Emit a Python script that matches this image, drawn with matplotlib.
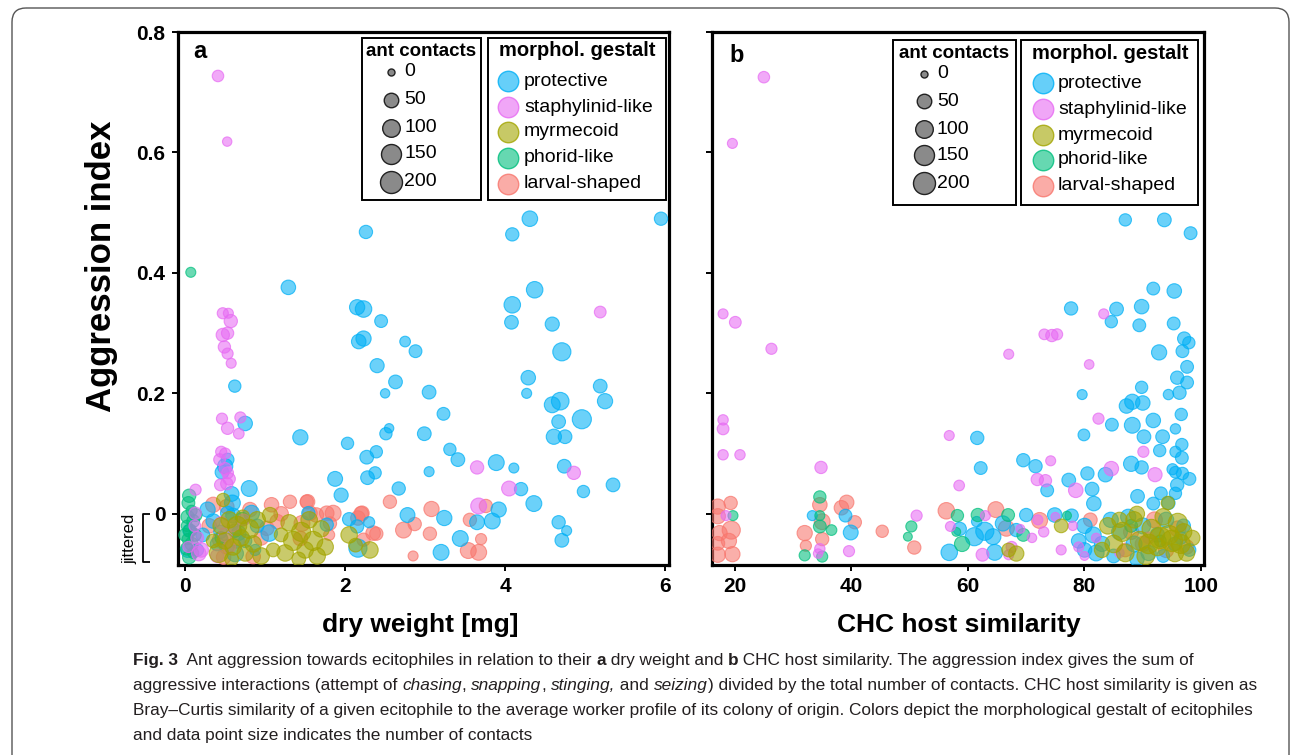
import numpy as np
import matplotlib
matplotlib.use("Agg")
import matplotlib.pyplot as plt
from matplotlib.colors import to_rgba
from matplotlib.patches import FancyBboxPatch, Rectangle
from matplotlib import font_manager

W, H, DPI = 1295, 755, 100
plt.rcParams['font.family'] = ['Liberation Sans', 'DejaVu Sans']

# ---------------- data ----------------
gestalts = ["protective", "staphylinid-like", "myrmecoid", "phorid-like", "larval-shaped"]
colors = {"protective": "#00B0F6", "staphylinid-like": "#E76BF3", "myrmecoid": "#A3A500",
          "phorid-like": "#00BF7D", "larval-shaped": "#F8766D"}
contact_levels = [0, 50, 100, 150, 200]

yticks = [0, 0.2, 0.4, 0.6, 0.8]
ytick_labels = ["0", "0.2", "0.4", "0.6", "0.8"]
a_xticks = [0, 2, 4, 6]
b_xticks = [20, 40, 60, 80, 100]

# panel a: dry weight [mg]
a_prot_x = [2.26, 1.29, 2.15, 2.23, 2.45, 2.17, 2.23, 2.75, 2.88, 2.40, 2.63, 2.5, 3.05, 3.23, 0.62, 0.75, 1.44, 2.55, 2.51, 2.99,
            2.03, 2.39, 2.27, 2.375, 2.28, 1.875, 1.95, 2.67, 3.05, 3.31, 3.41, 3.89, 4.11, 4.2, 4.36, 4.31, 4.09, 5.95, 4.37, 4.09,
            4.08, 4.59, 4.71, 4.29, 4.27, 4.59, 4.69, 4.96, 5.19, 5.25, 4.67, 4.61, 4.75, 4.74, 4.98, 5.35, 0.5, 0.46, 0.53, 0.8,
            0.58, 0.03, 0.05, 0.28, 0.59, 0.53, 0.6, 0.83, 0.67, 0.625, 0.875, 1.05, 0.44, 1.54, 1.77, 2.16, 2.78, 2.05, 2.15, 2.3,
            3.24, 3.44, 3.2, 3.65, 3.84, 3.92, 4.67, 4.77, 4.71, 0.35, 0.4, 0.9, 0.75, 0.22, 0.15]
a_prot_y = [0.468, 0.376, 0.343, 0.34, 0.32, 0.286, 0.291, 0.286, 0.27, 0.246, 0.219, 0.2, 0.202, 0.166, 0.212, 0.15, 0.127, 0.142, 0.133, 0.133,
            0.117, 0.103, 0.094, 0.068, 0.06, 0.058, 0.031, 0.042, 0.07, 0.107, 0.09, 0.085, 0.076, 0.041, 0.017, 0.49, 0.464, 0.49, 0.372, 0.347,
            0.318, 0.315, 0.269, 0.226, 0.2, 0.181, 0.187, 0.157, 0.212, 0.187, 0.153, 0.128, 0.128, 0.079, 0.037, 0.048, 0.079, 0.069, 0.09, 0.042,
            0.033, -0.061, -0.028, 0.007, 0.018, 0.001, -0.003, 0.001, -0.032, -0.066, -0.06, -0.032, -0.03, 0.001, -0.018, -0.057, -0.002, -0.009, -0.021, -0.014,
            -0.007, -0.041, -0.064, -0.014, -0.012, 0.007, -0.014, -0.028, -0.044, -0.012, -0.05, -0.02, -0.045, -0.035, -0.06]
a_prot_n = [35, 50, 60, 80, 30, 50, 60, 12, 30, 45, 40, 5, 40, 30, 25, 50, 60, 5, 25, 40,
            25, 25, 40, 25, 40, 55, 45, 35, 8, 25, 40, 70, 8, 35, 70, 65, 35, 35, 80, 80,
            40, 45, 110, 50, 8, 70, 100, 130, 40, 60, 40, 60, 40, 40, 25, 40, 60, 40, 30, 70,
            55, 40, 30, 60, 70, 45, 55, 70, 50, 80, 15, 80, 35, 35, 35, 110, 55, 35, 35, 15,
            60, 70, 70, 55, 70, 60, 35, 8, 40, 50, 40, 40, 35, 40, 30]

a_stap_x = [0.41, 0.525, 0.47, 0.54, 0.57, 0.47, 0.53, 0.49, 0.53, 0.575, 0.46, 0.69, 0.53, 0.67, 0.45, 0.5, 0.43, 0.5, 0.53, 0.55,
            0.44, 0.52, 0.13, 5.19, 4.05, 4.86, 3.67, 3.65, 0.125, 0.12, 0.17, 0.04, 0.2, 0.15, 0.45, 0.5, 0.55, 0.73, 0.4, 0.6]
a_stap_y = [0.727, 0.618, 0.333, 0.333, 0.32, 0.297, 0.30, 0.277, 0.266, 0.25, 0.158, 0.16, 0.142, 0.133, 0.103, 0.1, 0.09, 0.075, 0.068, 0.058,
            0.048, 0.05, 0.04, 0.335, 0.042, 0.068, 0.013, 0.077, 0.001, -0.02, -0.066, -0.055, -0.06, -0.04, -0.015, -0.035, -0.055, -0.01, -0.07, -0.02]
a_stap_n = [18, 5, 15, 8, 35, 35, 25, 25, 15, 8, 15, 15, 25, 12, 15, 15, 20, 25, 20, 25,
            20, 25, 15, 20, 55, 35, 70, 35, 25, 20, 50, 15, 50, 30, 30, 40, 30, 20, 35, 20]

a_myrm_x = [0.475, 1.06, 0.45, 0.5, 0.42, 0.55, 0.6, 0.65, 0.7, 0.75, 0.8, 0.85, 0.9, 0.95, 0.72, 0.58, 1.3, 1.35, 1.25, 1.45,
            1.5, 1.55, 1.6, 1.65, 1.7, 1.75, 1.42, 1.2, 1.1, 2.05, 2.13, 2.31, 0.35]
a_myrm_y = [0.023, -0.002, -0.02, -0.045, -0.065, -0.01, -0.055, -0.02, -0.04, -0.065, -0.025, -0.05, -0.01, -0.07, -0.005, -0.075, -0.015, -0.045, -0.065, -0.03,
            -0.06, -0.01, -0.045, -0.07, -0.025, -0.055, -0.075, -0.035, -0.06, -0.035, -0.052, -0.06, -0.045]
a_myrm_n = [35, 60, 80, 80, 130, 80, 80, 130, 80, 80, 130, 80, 80, 80, 40, 40, 80, 130, 80, 130,
            80, 80, 130, 80, 80, 80, 40, 40, 40, 80, 40, 80, 40]

a_phor_x = [0.07, 0.05, 0.04, 0.08, 0.03, 0.1, 0.02, 0.06, 0.12, 0.03, 0.08, 0.02, 0.1, 0.05, 0.13, 0.0, 0.71, 0.62, 0.45]
a_phor_y = [0.401, 0.03, 0.018, 0.005, -0.005, -0.012, -0.02, -0.028, -0.035, -0.042, -0.05, -0.058, -0.065, -0.072, -0.002, -0.035, -0.009, -0.028, -0.04]
a_phor_n = [8, 35, 30, 15, 35, 30, 15, 35, 30, 15, 35, 30, 15, 35, 30, 30, 40, 35, 25]

a_larv_x = [0.35, 0.52, 0.81, 1.08, 1.31, 1.52, 1.56, 1.77, 1.81, 1.46, 1.44, 1.02, 1.15, 0.44, 0.52, 0.85, 0.48, 2.16, 2.21, 2.35,
            2.56, 3.08, 2.85, 1.53, 1.64, 1.85, 1.8, 2.2, 2.39, 2.23, 2.73, 2.87, 3.06, 3.7, 3.54, 3.67, 3.76, 3.56, 0.3, 0.65,
            1.2, 0.95]
a_larv_y = [0.015, 0.012, 0.007, 0.015, 0.02, 0.02, 0.001, 0.001, -0.016, -0.016, -0.041, -0.024, -0.013, -0.043, -0.055, -0.071, -0.072, -0.007, 0.001, -0.032,
            0.02, 0.008, -0.07, 0.02, -0.002, 0.001, -0.035, 0.0, -0.033, -0.043, -0.027, -0.017, -0.033, -0.042, -0.061, -0.064, 0.013, -0.01, -0.02, -0.045,
            0.0, -0.04]
a_larv_n = [60, 50, 50, 50, 35, 35, 50, 50, 35, 70, 50, 50, 50, 70, 50, 50, 50, 50, 50, 50,
            35, 60, 8, 50, 50, 70, 15, 50, 35, 35, 70, 35, 35, 15, 70, 70, 35, 35, 50, 50,
            50, 50]

# panel b: CHC host similarity
b_prot_x = [61.6, 62.2, 87.0, 93.7, 98.2, 91.8, 95.4, 77.7, 85.5, 84.6, 89.8, 89.4, 95.3, 97.1, 97.9, 96.8, 92.8, 97.6, 95.9, 97.6,
            96.3, 94.4, 89.8, 87.2, 88.2, 90.0, 79.6, 96.6, 91.8, 88.2, 90.2, 93.4, 92.9, 84.7, 79.9, 95.6, 96.7, 96.7, 95.6, 88.0,
            89.8, 95.1, 95.6, 96.8, 98.0, 95.9, 95.6, 69.5, 71.6, 73.6, 77.3, 80.5, 83.6, 81.3, 81.6, 89.1, 91.8, 93.1, 94.4,
            33.3, 39.0, 39.9, 56.8, 58.6, 61.1, 62.9, 64.3, 64.6, 61.5, 66.0, 68.3, 70.0, 74.9, 77.8, 80.0, 81.5, 83.0, 82.0, 80.0,
            84.5, 86.0, 87.5, 88.5, 90.0, 91.0, 92.5, 94.0, 95.5, 97.0, 98.0, 79.0, 85.0, 93.5, 89.0, 96.5]
b_prot_y = [0.126, 0.076, 0.488, 0.488, 0.466, 0.374, 0.37, 0.341, 0.34, 0.319, 0.344, 0.313, 0.316, 0.291, 0.284, 0.27, 0.268, 0.244, 0.226, 0.218,
            0.201, 0.198, 0.21, 0.179, 0.186, 0.184, 0.198, 0.165, 0.155, 0.147, 0.128, 0.128, 0.105, 0.148, 0.131, 0.141, 0.115, 0.093, 0.103, 0.083,
            0.077, 0.074, 0.069, 0.067, 0.058, 0.048, 0.034, 0.089, 0.079, 0.039, 0.056, 0.067, 0.065, 0.041, 0.017, 0.029, 0.017, 0.034, 0.018,
            -0.003, -0.003, -0.031, -0.064, -0.025, -0.038, -0.029, -0.038, -0.064, -0.013, -0.016, -0.027, -0.002, -0.002, -0.003, -0.02, -0.035, -0.05, -0.065, -0.06,
            -0.01, -0.03, -0.005, -0.05, -0.02, -0.065, -0.035, -0.01, -0.05, -0.02, -0.06, -0.045, -0.07, -0.07, -0.075, -0.04]
b_prot_n = [35, 30, 25, 40, 30, 30, 50, 35, 40, 25, 50, 30, 30, 35, 25, 30, 60, 30, 35, 30,
            35, 10, 25, 50, 60, 50, 8, 25, 50, 70, 40, 40, 25, 30, 20, 10, 25, 30, 15, 60,
            35, 15, 20, 25, 30, 35, 25, 35, 35, 30, 40, 35, 50, 40, 50, 40, 30, 30, 35,
            8, 30, 55, 80, 35, 110, 110, 70, 70, 10, 60, 35, 35, 50, 35, 60, 70, 60, 70, 50,
            60, 70, 60, 70, 70, 60, 50, 60, 40, 40, 30, 50, 40, 30, 50, 30]

b_stap_x = [25.0, 19.6, 18.0, 20.1, 26.3, 18.0, 18.0, 18.0, 20.9, 34.8, 56.8, 58.5, 83.3, 73.1, 74.4, 75.3, 67.0, 80.8, 90.1, 82.4,
            84.6, 92.1, 74.2, 71.9, 73.3, 78.5, 18.5, 34.6, 34.3, 39.6, 51.2, 57.0, 62.5, 63.0, 69.0, 71.0, 73.0, 75.0, 76.0, 78.0,
            79.0, 80.0, 67.5, 67.0, 82.0, 86.0, 91.0, 72.0]
b_stap_y = [0.725, 0.615, 0.332, 0.318, 0.274, 0.156, 0.141, 0.098, 0.098, 0.077, 0.13, 0.047, 0.332, 0.298, 0.296, 0.298, 0.265, 0.248, 0.103, 0.158,
            0.075, 0.065, 0.088, 0.057, 0.055, 0.039, -0.003, -0.058, -0.066, -0.062, -0.003, -0.021, -0.068, -0.003, -0.025, -0.04, -0.03, -0.005, -0.06, -0.02,
            -0.055, -0.07, -0.055, -0.068, -0.04, -0.065, -0.04, -0.01]
b_stap_n = [18, 8, 8, 20, 15, 10, 20, 10, 10, 25, 8, 12, 8, 12, 25, 15, 8, 6, 15, 15,
            50, 45, 8, 25, 25, 50, 8, 10, 5, 15, 15, 8, 30, 8, 3, 5, 10, 3, 8, 5,
            8, 3, 15, 8, 5, 5, 20, 8]

b_myrm_x = [94.3, 68.3, 84.0, 85.0, 86.5, 87.0, 88.5, 89.5, 90.5, 91.5, 92.5, 93.5, 94.5, 95.5, 96.0, 96.5, 97.0, 97.5, 95.0, 93.0,
            91.0, 83.0, 86.0, 98.5, 76.0, 89.0, 67.0]
b_myrm_y = [0.018, -0.066, -0.02, -0.05, -0.03, -0.065, -0.01, -0.045, -0.07, -0.025, -0.055, -0.005, -0.035, -0.065, -0.015, -0.05, -0.03, -0.065, -0.045, -0.04,
            -0.05, -0.06, -0.01, -0.04, -0.02, 0.0, -0.06]
b_myrm_n = [35, 60, 80, 100, 130, 100, 80, 130, 100, 130, 100, 80, 130, 100, 130, 130, 80, 80, 180, 180,
            140, 60, 60, 60, 40, 60, 40]

b_phor_x = [34.6, 19.7, 32.0, 34.6, 34.6, 36.6, 35.0, 50.3, 49.7, 59.0, 58.2, 61.7, 58.0, 66.9, 69.5, 77.0, 88.0, 93.0]
b_phor_y = [0.028, -0.003, -0.069, -0.021, -0.003, -0.027, -0.071, -0.021, -0.038, -0.05, -0.003, -0.002, -0.03, -0.002, -0.035, -0.003, -0.02, -0.045]
b_phor_n = [25, 8, 15, 30, 8, 12, 15, 15, 3, 60, 25, 35, 3, 30, 30, 3, 30, 20]

b_larv_x = [17.1, 19.3, 17.1, 17.4, 19.4, 19.0, 17.1, 17.1, 19.6, 34.6, 39.2, 38.3, 32.0, 32.2, 35.0, 35.0, 40.6, 45.3, 50.8, 56.3,
            64.8, 66.6, 72.3, 88.0, 90.0, 92.0, 94.0, 96.0, 97.5, 87.0, 81.0]
b_larv_y = [0.012, 0.018, -0.004, -0.032, -0.027, -0.045, -0.049, -0.068, -0.067, 0.015, 0.019, 0.01, -0.032, -0.053, -0.013, -0.042, -0.014, -0.029, -0.056, 0.005,
            0.007, -0.024, -0.011, -0.03, -0.05, -0.01, -0.06, -0.025, -0.055, -0.06, -0.01]
b_larv_n = [60, 35, 60, 60, 110, 60, 40, 60, 60, 50, 50, 50, 60, 15, 70, 35, 35, 25, 35, 80,
            70, 70, 70, 60, 60, 70, 60, 70, 50, 40, 40]

panel_a = {"larval-shaped": (a_larv_x, a_larv_y, a_larv_n), "protective": (a_prot_x, a_prot_y, a_prot_n),
           "phorid-like": (a_phor_x, a_phor_y, a_phor_n), "staphylinid-like": (a_stap_x, a_stap_y, a_stap_n),
           "myrmecoid": (a_myrm_x, a_myrm_y, a_myrm_n)}
panel_b = {"larval-shaped": (b_larv_x, b_larv_y, b_larv_n), "protective": (b_prot_x, b_prot_y, b_prot_n),
           "phorid-like": (b_phor_x, b_phor_y, b_phor_n), "staphylinid-like": (b_stap_x, b_stap_y, b_stap_n),
           "myrmecoid": (b_myrm_x, b_myrm_y, b_myrm_n)}

# ---------------- helpers ----------------
def size_pt2(n):
    d = 7 + 15 * np.sqrt(np.asarray(n, dtype=float) / 200.0)
    return (d * 72.0 / DPI) ** 2

def px_rect(l, t, r, b):
    return [l / W, 1 - b / H, (r - l) / W, (b - t) / H]

fig = plt.figure(figsize=(W / DPI, H / DPI), dpi=DPI)
fig.patch.set_facecolor("white")

axa = fig.add_axes(px_rect(178, 32, 669, 565))
axb = fig.add_axes(px_rect(712, 32, 1204, 565))

def draw_panel(ax, data, xlim, xticks, show_ylabels):
    for g in ["larval-shaped", "protective", "phorid-like", "staphylinid-like", "myrmecoid"]:
        x, y, n = data[g]
        c = colors[g]
        ax.scatter(x, y, s=size_pt2(n), facecolor=to_rgba(c, 0.58), edgecolor=to_rgba(c, 0.72),
                   linewidth=0.8, zorder=3)
    ax.set_xlim(*xlim)
    ax.set_ylim(-0.085, 0.8)
    ax.set_xticks(xticks)
    ax.set_xticklabels([str(t) for t in xticks], fontsize=15, fontweight="bold")
    ax.set_yticks(yticks)
    if show_ylabels:
        ax.set_yticklabels(ytick_labels, fontsize=15, fontweight="bold")
    else:
        ax.set_yticklabels([])
    for sp in ax.spines.values():
        sp.set_linewidth(2.3)
        sp.set_color("black")
    ax.tick_params(direction="out", length=4, width=1.4, pad=5, colors="black")

draw_panel(axa, panel_a, (-0.09, 6.05), a_xticks, True)
draw_panel(axb, panel_b, (16.1, 100.5), b_xticks, False)

# overlay in pixel coordinates
ov = fig.add_axes([0, 0, 1, 1], zorder=10)
ov.set_xlim(0, W)
ov.set_ylim(H, 0)
ov.axis("off")
ov.patch.set_alpha(0)

# outer rounded border
ov.add_patch(FancyBboxPatch((12, 8), 1277, 800, boxstyle="round,pad=0,rounding_size=14",
                            facecolor="none", edgecolor="#555555", linewidth=1.0, clip_on=False))

# axis labels
ov.text(102, 266, "Aggression index", rotation=90, ha="center", va="center",
        fontsize=25, fontweight="bold")
ov.text(420, 625, "dry weight [mg]", ha="center", va="center", fontsize=19, fontweight="bold")
ov.text(959, 625, "CHC host similarity", ha="center", va="center", fontsize=19, fontweight="bold")
ov.text(193, 52, "a", ha="left", va="center", fontsize=17, fontweight="bold")
ov.text(729, 56, "b", ha="left", va="center", fontsize=17, fontweight="bold")

# jittered bracket
ov.plot([150, 143, 143, 150], [514, 514, 562, 562], color="black", lw=1.3, solid_capstyle="butt")
ov.text(130, 539, "jittered", rotation=90, ha="center", va="center", fontsize=12)

# legends
def draw_legends(ant_box, ant_title_xy, ant_cx, ant_lx, ant_rows, g_box, g_title_xy, g_cx, g_lx, g_rows):
    for (l, t, r, b) in (ant_box, g_box):
        ov.add_patch(Rectangle((l, t), r - l, b - t, facecolor="white", edgecolor="black",
                               linewidth=1.4, zorder=1))
    ov.text(*ant_title_xy, "ant contacts", ha="center", va="center", fontsize=13.5,
            fontweight="bold", zorder=3)
    for lev, yy in zip(contact_levels, ant_rows):
        ov.scatter([ant_cx], [yy], s=size_pt2(lev), facecolor="#8a8a8a", edgecolor="#222222",
                   linewidth=1.0, zorder=3)
        ov.text(ant_lx, yy, str(lev), ha="left", va="center", fontsize=14, zorder=3)
    ov.text(*g_title_xy, "morphol. gestalt", ha="center", va="center", fontsize=14.5,
            fontweight="bold", zorder=3)
    for g, yy in zip(gestalts, g_rows):
        c = colors[g]
        ov.scatter([g_cx], [yy], s=(20.5 * 72 / DPI) ** 2, facecolor=to_rgba(c, 0.6),
                   edgecolor=to_rgba(c, 0.8), linewidth=1.0, zorder=3)
        ov.text(g_lx, yy, g, ha="left", va="center", fontsize=14, zorder=3)

draw_legends((362, 38, 481, 200), (421, 51), 391, 404, [72, 99.5, 127.5, 154, 182],
             (488, 38, 666, 200), (577, 51), 508, 524, [81, 107, 132, 158, 183.5])
draw_legends((893, 40, 1016, 205), (954, 53.5), 924, 937, [73.5, 101, 129, 155, 183],
             (1021, 40, 1198, 205), (1110, 53.5), 1043, 1058, [83, 109, 135, 160, 186])

# ---------------- caption ----------------
narrow = None
for fam in ["Liberation Sans Narrow", "Arial Narrow", "DejaVu Sans Condensed"]:
    try:
        font_manager.findfont(font_manager.FontProperties(family=fam), fallback_to_default=False)
        narrow = fam
        break
    except Exception:
        pass
cap_family = [narrow, "DejaVu Sans"] if narrow else ["Liberation Sans", "DejaVu Sans"]
cap_color = "#231F20"

caption_lines = [
    [("Fig. 3", "bold", "normal"), ("  Ant aggression towards ecitophiles in relation to their ", "normal", "normal"),
     ("a", "bold", "normal"), (" dry weight and ", "normal", "normal"), ("b", "bold", "normal"),
     (" CHC host similarity. The aggression index gives the sum of", "normal", "normal")],
    [("aggressive interactions (attempt of ", "normal", "normal"), ("chasing", "normal", "italic"),
     (", ", "normal", "normal"), ("snapping", "normal", "italic"), (", ", "normal", "normal"),
     ("stinging,", "normal", "italic"), (" and ", "normal", "normal"), ("seizing", "normal", "italic"),
     (") divided by the total number of contacts. CHC host similarity is given as", "normal", "normal")],
    [("Bray\u2013Curtis similarity of a given ecitophile to the average worker profile of its colony of origin. "
      "Colors depict the morphological gestalt of ecitophiles", "normal", "normal")],
    [("and data point size indicates the number of contacts", "normal", "normal")],
]
line_ends = [1255, 1259, 1281, None]
baselines = [665, 690, 715, 740]
x0 = 133

fig.canvas.draw()
rend = fig.canvas.get_renderer()

def text_w(s, fs, weight, style):
    t1 = ov.text(0, 0, s + "|", fontsize=fs, fontweight=weight, fontstyle=style, family=cap_family)
    t2 = ov.text(0, 0, "|", fontsize=fs, fontweight=weight, fontstyle=style, family=cap_family)
    w = t1.get_window_extent(rend).width - t2.get_window_extent(rend).width
    t1.remove(); t2.remove()
    return w

base_fs = 12.0
scales = []
for line, end in zip(caption_lines, line_ends):
    if end is None:
        continue
    wl = sum(text_w(s, base_fs, wt, st) for s, wt, st in line)
    scales.append((end - x0) / wl)
cap_fs = min(base_fs * min(scales), 14.5)

for line, yb in zip(caption_lines, baselines):
    x = x0
    for s, wt, st in line:
        ov.text(x, yb, s, fontsize=cap_fs, fontweight=wt, fontstyle=st, family=cap_family,
                ha="left", va="baseline", color=cap_color)
        x += text_w(s, cap_fs, wt, st)

fig.savefig("out.png", dpi=DPI)
